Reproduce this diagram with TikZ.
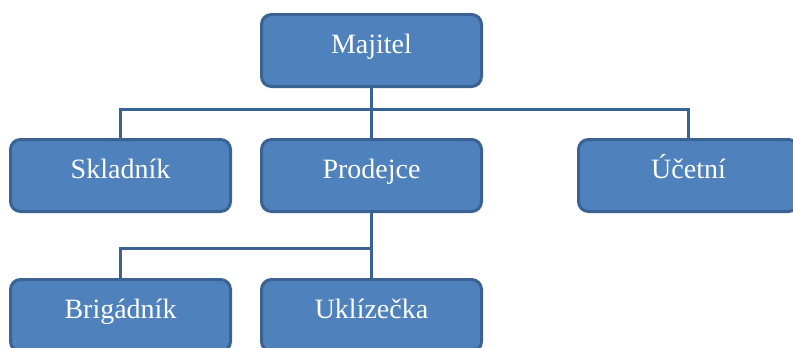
\documentclass[tikz,border=0pt]{standalone}
\usepackage{fontspec}
\setmainfont{Liberation Serif}
\usetikzlibrary{positioning}
\definecolor{boxfill}{HTML}{4F81BD}
\definecolor{boxline}{HTML}{3A6293}
\tikzset{
  role/.style={rectangle, rounded corners=7.5pt, draw=boxline, fill=boxfill, line width=2.25pt,
    minimum width=165pt, minimum height=54pt, outer sep=0pt, text=white,
    text height=12pt, text depth=6.8pt, font=\fontsize{21}{25}\selectfont},
  link/.style={draw=boxline, line width=2.25pt},
}

\begin{document}
\begin{tikzpicture}[node distance=39.75pt and 23.25pt]
  \useasboundingbox (0,0) rectangle (594.75pt,-260.25pt);

  % Owner and first level
  \node[role] (majitel) at (278.625pt,-37.875pt) {Majitel};
  \node[role, below=of majitel] (prodejce) {Prodejce};
  \node[role, left=of prodejce] (skladnik) {Skladník};
  \node[role, right=72.75pt of prodejce] (ucetni) {Účetní};

  % Second level under the seller
  \node[role, below=51pt of prodejce] (uklizecka) {Uklízečka};
  \node[role, left=of uklizecka] (brigadnik) {Brigádník};

  % Connectors
  \draw[link] (majitel.south) -- ++(0,-16.9pt) coordinate (topbar) -| (skladnik.north);
  \draw[link] (topbar) -| (ucetni.north);
  \draw[link] (majitel.south) -- (prodejce.north);
  \draw[link] (prodejce.south) -- ++(0,-27.4pt) coordinate (lowbar) -| (brigadnik.north);
  \draw[link] (prodejce.south) -- (uklizecka.north);
\end{tikzpicture}
\end{document}
